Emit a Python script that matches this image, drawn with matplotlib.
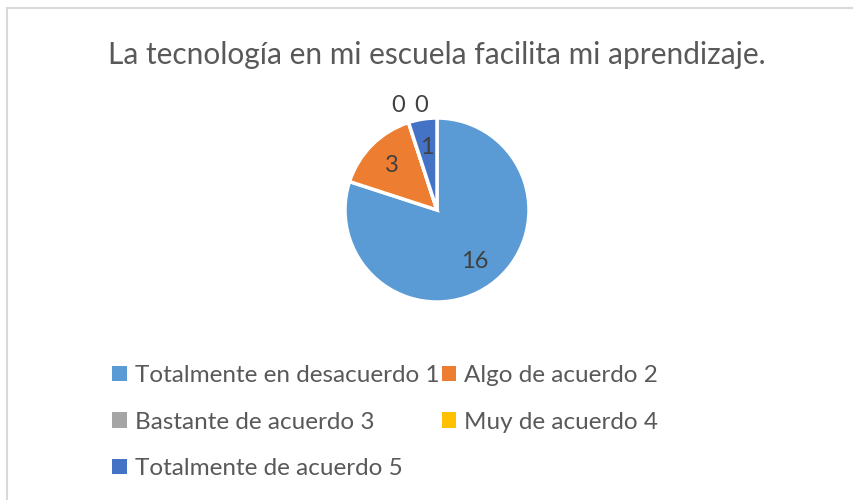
import numpy as np
import matplotlib.pyplot as plt
from matplotlib.patches import Rectangle, Patch

plt.rcParams['font.family'] = ['Lato', 'DejaVu Sans']

title = "La tecnología en mi escuela facilita mi aprendizaje."
categories = ["Totalmente en desacuerdo 1", "Algo de acuerdo 2", "Bastante de acuerdo 3",
              "Muy de acuerdo 4", "Totalmente de acuerdo 5"]
values = [16, 3, 0, 0, 1]
colors = ["#5B9BD5", "#ED7D31", "#A5A5A5", "#FFC000", "#4472C4"]

W, H = 854, 500
fig = plt.figure(figsize=(W / 100, H / 100), dpi=100)
fig.patches.append(Rectangle((7 / W, -0.1), 1, 1.1 - 8 / H, transform=fig.transFigure,
                             fill=False, edgecolor="#D9D9D9", linewidth=1.5))

fig.text(437 / W, 1 - 55 / H, title, ha="center", va="center", fontsize=21.5, color="#595959")

# pie: centre (437, 210) px, radius 92 px
r = 92
ax = fig.add_axes([(437 - r) / W, 1 - (210 + r) / H, 2 * r / W, 2 * r / H])
wedges, _ = ax.pie(values, colors=colors, startangle=90, counterclock=False,
                   wedgeprops=dict(edgecolor="white", linewidth=2.5), radius=1)
ax.set_xlim(-1, 1)
ax.set_ylim(-1, 1)
ax.set_aspect("equal")
ax.axis("off")

zero_shift = -0.05
for w, v in zip(wedges, values):
    ang = np.deg2rad((w.theta1 + w.theta2) / 2)
    if v > 0:
        x, y = 0.69 * np.cos(ang), 0.69 * np.sin(ang)
    else:
        x, y = 1.2 * np.cos(ang) + zero_shift, 1.2 * np.sin(ang)
        zero_shift += 0.25
    ax.text(x, y, str(v), ha="center", va="center", fontsize=17, color="#404040",
            clip_on=False)

order = [0, 2, 4, 1, 3]
handles = [Patch(facecolor=colors[i], edgecolor="none") for i in order]
labels = [categories[i] for i in order]
fig.legend(handles, labels, ncol=2, loc="upper left", bbox_to_anchor=(112 / W, 1 - 365 / H),
           frameon=False, fontsize=17.5, labelcolor="#595959", handlelength=0.6,
           handleheight=0.6, handletextpad=0.33, columnspacing=0.1, labelspacing=1.05,
           borderpad=0, borderaxespad=0)

fig.savefig("out.png", dpi=100)
